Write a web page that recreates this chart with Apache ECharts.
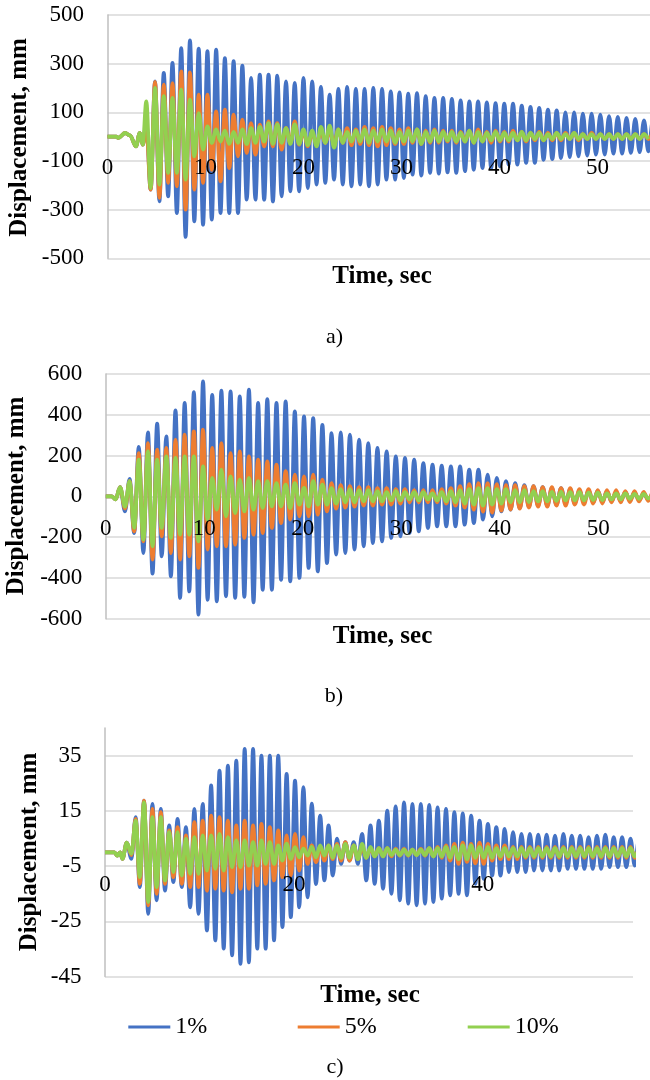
<!DOCTYPE html>
<html>
<head>
<meta charset="utf-8">
<script src="https://cdn.jsdelivr.net/npm/echarts@6.0.0/dist/echarts.min.js"></script>
<style>
html,body{margin:0;padding:0;background:#fff;}
#chart{width:650px;height:1080px;}
</style>
</head>
<body>
<div id="chart"></div>
<script>
// ---------------- DATA ----------------
const seriesNames = ['1%', '5%', '10%'];
const xTitle = 'Time, sec';
const yTitle = 'Displacement, mm';
const panelLabels = ['a)', 'b)', 'c)'];

// Panel a) : early small motion (time, value) then alternating peaks every aStep seconds from aStart
const aPreT = [0, 0.9, 1.1, 1.8, 2.3, 2.9, 3.3, 3.6];
const aPreV = [0, 0, -5, 15, 5, -40, 15, -33];
const aStart = 3.96, aStep = 0.4455;
const aBlue = [60, -218, 227, -266, 262, -245, 303, -314, 364, -412, 396, -348, 362, -362, 351, -341, 358, -314, 323, -314,
  310, -314, 292, -259, 241, -259, 255, -259, 255, -266, 251, -245, 227, -225, 221, -225, 241, -211, 227, -197, 204,
  -190, 173, -177, 196, -197, 204, -204, 196, -197, 196, -204, 200, -197, 196, -177, 186, -177, 182, -170, 177, -156,
  179, -160, 166, -149, 159, -152, 159, -147, 155, -149, 149, -142, 145, -136, 145, -129, 141, -129, 138, -122, 136,
  -115, 136, -115, 127, -108, 122, -108, 118, -95, 111, -92, 108, -88, 100, -84, 100, -81, 95, -78, 95, -74, 90, -74,
  84, -70, 81, -70, 77, -67, 73, -64, 67, -60, 62, -58];
const aOrange = [40, -218, 225, -252, 214, -190, 220, -204, 268, -300, 264, -218, 173, -190, 173, -136, 104, -184, 111, -129,
  90, -81, 70, -67, 56, -74, 49, -40, 63, -40, 56, -53, 36, -26, 63, -33, 22, -40, 15, -29, 20, -26, 25, -30, 30, -25,
  35, -35, 30, -30, 40, -35, 35, -40, 40, -35, 35, -30, 30, -30, 35, -25, 30, -30, 25, -25, 30, -25, 25, -20, 25, -25,
  20, -20, 25, -25, 30, -20, 20, -25, 25, -20, 20, -20, 25, -15, 20, -20, 15, -15, 20, -15, 15, -15, 15, -15, 15, -10,
  15, -15, 10, -10, 15, -10, 10, -10, 10, -10, 10, -10, 10, -10, 10, -10, 10, -10, 10, -10];
const aGreen = [145, -211, 200, -197, 166, -149, 159, -149, 193, -177, 152, -81, 97, -53, 42, -26, 30, -20, 25, -30,
  20, -25, 30, -30, 35, -25, 40, -20, 55, -30, 50, -25, 35, -30, 50, -30, 30, -35, 25, -40, 40, -25, 45, -45, 30, -25,
  20, -20, 25, -20, 30, -25, 25, -20, 30, -20, 25, -25, 20, -20, 25, -20, 30, -30, 20, -20, 25, -20, 20, -15, 20, -20,
  15, -20, 25, -25, 20, -20, 15, -15, 20, -15, 15, -15, 15, -15, 20, -15, 15, -10, 15, -15, 10, -10, 15, -10, 10, -10,
  15, -10, 10, -10, 10, -10, 10, -10, 10, -10, 10, -10, 10, -10, 10, -10, 10, -10];

// Panel b)
const bPreT = [0, 0.6, 1.0, 1.45];
const bPreV = [0, 0, -15, 45];
const bStart = 1.95, bStep = 0.466;
const bBlue = [-74, 85, -180, 242, -278, 314, -379, 356, -294, 294, -392, 422, -498, 458, -466, 511, -580, 564, -507, 498,
  -515, 518, -490, 515, -498, 490, -493, 523, -520, 458, -458, 477, -458, 458, -409, 466, -417, 417, -400, 392, -351, 384,
  -368, 351, -327, 310, -286, 314, -278, 302, -261, 278, -245, 261, -229, 237, -221, 221, -204, 196, -196, 188, -180, 180,
  -172, 163, -155, 155, -147, 150, -147, 147, -147, 147, -139, 131, -131, 131, -114, 106, -98, 90, -74, 74, -65, 65,
  -57, 55, -50, 50, -45, 45, -45, 40, -40, 40, -35, 35, -35, 30, -30, 30, -30, 28, -28, 25, -25, 22, -22, 20, -20, 18,
  -18, 15, -15, 15];
const bOrange = [-60, 74, -172, 212, -221, 261, -310, 229, -196, 237, -278, 278, -310, 302, -294, 319, -351, 327, -261, 237,
  -245, 261, -245, 212, -237, 221, -204, 196, -188, 180, -180, 172, -155, 155, -131, 123, -114, 106, -98, 98, -98, 106,
  -90, 82, -74, 65, -60, 55, -55, 50, -50, 45, -45, 45, -45, 40, -40, 40, -40, 35, -35, 35, -30, 30, -30, 30, -30, 30,
  -30, 35, -35, 40, -45, 50, -55, 60, -65, 65, -75, 65, -80, 60, -70, 55, -65, 55, -60, 50, -55, 50, -50, 45, -50, 45,
  -45, 40, -45, 40, -40, 35, -40, 35, -35, 30, -35, 30, -30, 30, -30, 25, -28, 25, -25, 22, -22, 20, -20];
const bGreen = [-50, 74, -155, 180, -212, 221, -245, 180, -155, 196, -204, 188, -188, 196, -188, 196, -221, 147, -114, 90,
  -65, 131, -98, 98, -82, 82, -74, 90, -65, 74, -57, 74, -49, 65, -49, 57, -57, 65, -41, 41, -49, 74, -41, 57,
  -41, 40, -35, 35, -30, 35, -30, 30, -25, 30, -25, 25, -25, 20, -20, 25, -20, 20, -15, 20, -20, 20, -15, 15, -20, 20,
  -25, 25, -30, 30, -35, 35, -40, 40, -45, 40, -40, 35, -35, 35, -30, 30, -30, 30, -28, 25, -25, 25, -25, 22, -22, 22,
  -20, 20, -20, 20, -20, 18, -18, 18, -18, 15, -15, 15, -15, 15, -12, 12, -12, 12, -10, 10];

// Panel c)
const cPreT = [0, 1.0, 1.3, 1.6, 1.85, 2.3];
const cPreV = [0, 0, -1.2, 0, -2.4, 3.5];
const cStart = 2.8, cStep = 0.444;
const cBlue = [-2.4, 12.7, -12.6, 18.7, -22.3, 17.5, -17.4, 15.7, -13.9, 9.7, -10.8, 12.1, -12.6, 9.1, -19.9, 15.7,
  -22.3, 17.5, -28.3, 24.2, -31.9, 29.6, -34.9, 31.4, -37.3, 33.2, -40.4, 37.4, -39.8, 37.4, -34.9, 35.0, -34.9, 35.0,
  -31.9, 35.0, -27.1, 28.4, -23.5, 25.9, -19.9, 23.6, -16.3, 17.6, -11.5, 13.3, -10.2, 9.7,
  -8.4, 4.9, -4.2, 3.7, -3.0, 3.7, -4.2, 6.7, -10.2, 9.7, -11.4, 11.5, -13.2, 15.1, -15.0, 16.6, -17.4, 18.1, -18.6,
  17.5, -19.2, 17.5, -18.6, 17.2, -18.0, 16.3, -16.8, 15.7, -15.6, 14.5, -15.0, 14.1, -15.6, 13.3, -11.4, 11.5, -9.6,
  10.3, -8.4, 9.1, -8.4, 8.5, -7.2, 7.3, -7.2, 6.7, -7.2, 6.7, -6.6, 6.4, -6.6, 6.4, -6.6, 6.0, -6.6, 6.7, -6.0, 6.0,
  -6.0, 6.0, -6.0, 5.5, -6.0, 6.0, -6.0, 6.4, -5.4, 5.5, -5.4, 5.5, -5.4, 4.9, -4.8, 4.5, -4.5];
const cOrange = [-1.0, 12.1, -11.4, 18.7, -19.2, 15.7, -15.0, 14.5, -11.4, 7.9, -9.0, 9.1, -11.4, 6.1, -12.6, 10.9,
  -12.6, 11.5, -13.9, 13.3, -13.2, 12.7, -13.9, 11.5, -14.5, 9.7, -13.2, 11.5, -13.2, 9.7, -12.0, 10.3, -11.4, 9.1,
  -10.2, 7.9, -9.0, 6.1, -8.4, 6.7, -6.6, 5.5, -4.2, 2.5, -3.6, 1.9, -3.0, 2.5,
  -2.5, 3.0, -3.0, 3.7, -3.0, 2.5, -2.5, 2.0, -2.0, 1.5, -1.5, 1.5, -1.5, 1.5, -1.5, 1.2, -1.2, 1.2, -1.2, 1.0,
  -1.0, 1.2, -1.2, 1.5, -1.5, 2.0, -2.0, 2.5, -3.0, 3.0, -4.2, 3.5, -3.5, 3.0, -4.0, 3.5, -4.2, 3.0, -3.0, 2.5,
  -2.5, 2.5, -2.5, 2.0, -2.5, 2.0, -2.0, 2.0, -2.0, 2.0, -2.0, 2.0, -2.0, 2.0, -2.0, 2.0, -2.0, 2.0, -2.0, 2.0,
  -2.0, 2.0, -2.0, 2.0, -2.0, 2.0, -2.0, 2.0, -2.0, 2.0, -2.0, 2.0, -2.0, 2.0];
const cGreen = [-0.5, 11.5, -9.0, 18.1, -18.0, 12.7, -12.6, 12.7, -10.2, 7.3, -7.2, 7.3, -8.4, 4.9, -7.8, 5.5, -7.8,
  6.1, -6.6, 6.1, -6.0, 6.7, -6.6, 5.5, -5.4, 4.3, -5.4, 4.3, -4.8, 3.7, -4.8, 4.3, -4.2, 3.7, -4.2, 2.5, -3.0, 3.1,
  -2.4, 1.9, -1.8, 1.3, -1.2, 2.0, -1.8, 2.5, -1.2, 2.5,
  -2.0, 2.5, -2.0, 3.0, -2.0, 2.5, -2.5, 3.0, -2.0, 2.0, -1.5, 1.5, -1.5, 1.5, -1.0, 1.0, -1.0, 1.0, -1.0, 1.0,
  -1.0, 1.0, -1.0, 1.5, -1.5, 1.5, -1.5, 2.0, -2.0, 2.0, -2.5, 2.5, -2.5, 2.5, -2.0, 2.0, -2.0, 2.0, -2.0, 1.5,
  -1.5, 1.5, -1.5, 1.5, -1.5, 1.5, -1.5, 1.5, -1.5, 1.5, -1.5, 1.5, -1.5, 1.5, -1.5, 1.5, -1.5, 1.5, -1.5, 1.5,
  -1.5, 1.5, -1.5, 1.5, -1.5, 1.5, -1.5, 1.5, -1.5, 1.5, -1.5, 1.5, -1.5, 1.5];

// Axis ranges
const aY = {min: -500, max: 500, interval: 200};
const bY = {min: -600, max: 600, interval: 200};
const cY = {min: -45, max: 45, interval: 20};
const aX = {min: 0, max: 55.36, interval: 10};
const bX = {min: 0, max: 55.25, interval: 10};
const cX = {min: 0, max: 55.9, interval: 20};

// ---------------- STYLE / LAYOUT ----------------
const COLORS = ['#4472C4', '#ED7D31', '#92D050'];
const FONT = "'Liberation Serif','Times New Roman',serif";
const GRIDS = [
  {left: 107.5, top: 15, width: 542.5, height: 243.3},
  {left: 105.8, top: 374, width: 544.2, height: 244.7},
  {left: 105, top: 728, width: 528, height: 248.6}
];
// x-axis tick labels sit just under the zero line (offset from grid bottom)
const X_LABEL_MARGIN = [-101.6, -101.7, -103.6];

function buildData(preT, preV, start, step, vals) {
  const pts = preT.map((t, i) => [t, preV[i]]);
  vals.forEach((v, i) => pts.push([+(start + i * step).toFixed(4), v]));
  return pts;
}

const panels = [
  {preT: aPreT, preV: aPreV, start: aStart, step: aStep, vals: [aBlue, aOrange, aGreen], x: aX, y: aY},
  {preT: bPreT, preV: bPreV, start: bStart, step: bStep, vals: [bBlue, bOrange, bGreen], x: bX, y: bY},
  {preT: cPreT, preV: cPreV, start: cStart, step: cStep, vals: [cBlue, cOrange, cGreen], x: cX, y: cY}
];

const series = [];
const xAxis = [];
const yAxis = [];
panels.forEach((p, gi) => {
  xAxis.push({
    type: 'value', gridIndex: gi, min: p.x.min, max: p.x.max, interval: p.x.interval, z: 10,
    axisLine: {show: false, onZero: false},
    axisTick: {show: false},
    splitLine: {show: false},
    axisLabel: {show: true, showMaxLabel: false, margin: X_LABEL_MARGIN[gi], fontSize: 23, fontFamily: FONT, color: '#000'}
  });
  yAxis.push({
    type: 'value', gridIndex: gi, min: p.y.min, max: p.y.max, interval: p.y.interval,
    axisLine: {show: true, lineStyle: {color: '#bfbfbf', width: 1.5}},
    axisTick: {show: false},
    splitLine: {show: true, showMaxLine: gi !== 2, lineStyle: {color: '#d9d9d9', width: 1.5}},
    axisLabel: {showMaxLabel: gi !== 2, margin: 23.5, fontSize: 23, fontFamily: FONT, color: '#000'}
  });
  p.vals.forEach((vals, si) => {
    series.push({
      type: 'line', name: seriesNames[si], xAxisIndex: gi, yAxisIndex: gi,
      data: buildData(p.preT, p.preV, p.start, p.step, vals),
      showSymbol: false, symbol: 'none', smooth: 0.35, smoothMonotone: 'x', silent: true,
      lineStyle: {width: 3.8, color: COLORS[si]}, itemStyle: {color: COLORS[si]}, z: 2 + si
    });
  });
});

const legendLeft = [128.3, 297.7, 467.7];
const legend = seriesNames.map((n, i) => ({
  data: [n], left: legendLeft[i], top: 1015, padding: 0, icon: 'rect', itemWidth: 42, itemHeight: 3,
  selectedMode: false, textStyle: {fontSize: 24, fontFamily: FONT, color: '#000'}
}));

function txt(s, x, y, size, bold, rot) {
  return {type: 'text', x: x, y: y, rotation: rot || 0, silent: true,
    style: {text: s, fontSize: size, fontWeight: bold ? 'bold' : 'normal', fontFamily: FONT, fill: '#000',
      align: 'center', verticalAlign: 'middle', textAlign: 'center', textVerticalAlign: 'middle'}};
}
const graphic = [
  txt(yTitle, 20, 137.5, 25, true, Math.PI / 2),
  txt(xTitle, 382, 276.3, 25, true),
  txt(panelLabels[0], 334.5, 337, 22, false),
  txt(yTitle, 16.5, 496, 25, true, Math.PI / 2),
  txt(xTitle, 382.5, 637, 25, true),
  txt(panelLabels[1], 334, 696, 22, false),
  txt(yTitle, 30, 852, 25, true, Math.PI / 2),
  txt(xTitle, 370, 996, 25, true),
  txt(panelLabels[2], 335, 1067, 22, false)
];

const chart = echarts.init(document.getElementById('chart'), null, {renderer: 'canvas'});
chart.setOption({
  animation: false,
  backgroundColor: '#fff',
  grid: GRIDS.map(g => Object.assign({containLabel: false, outerBoundsMode: 'none'}, g)),
  xAxis: xAxis,
  yAxis: yAxis,
  legend: legend,
  series: series,
  graphic: graphic
});
</script>
</body>
</html>
